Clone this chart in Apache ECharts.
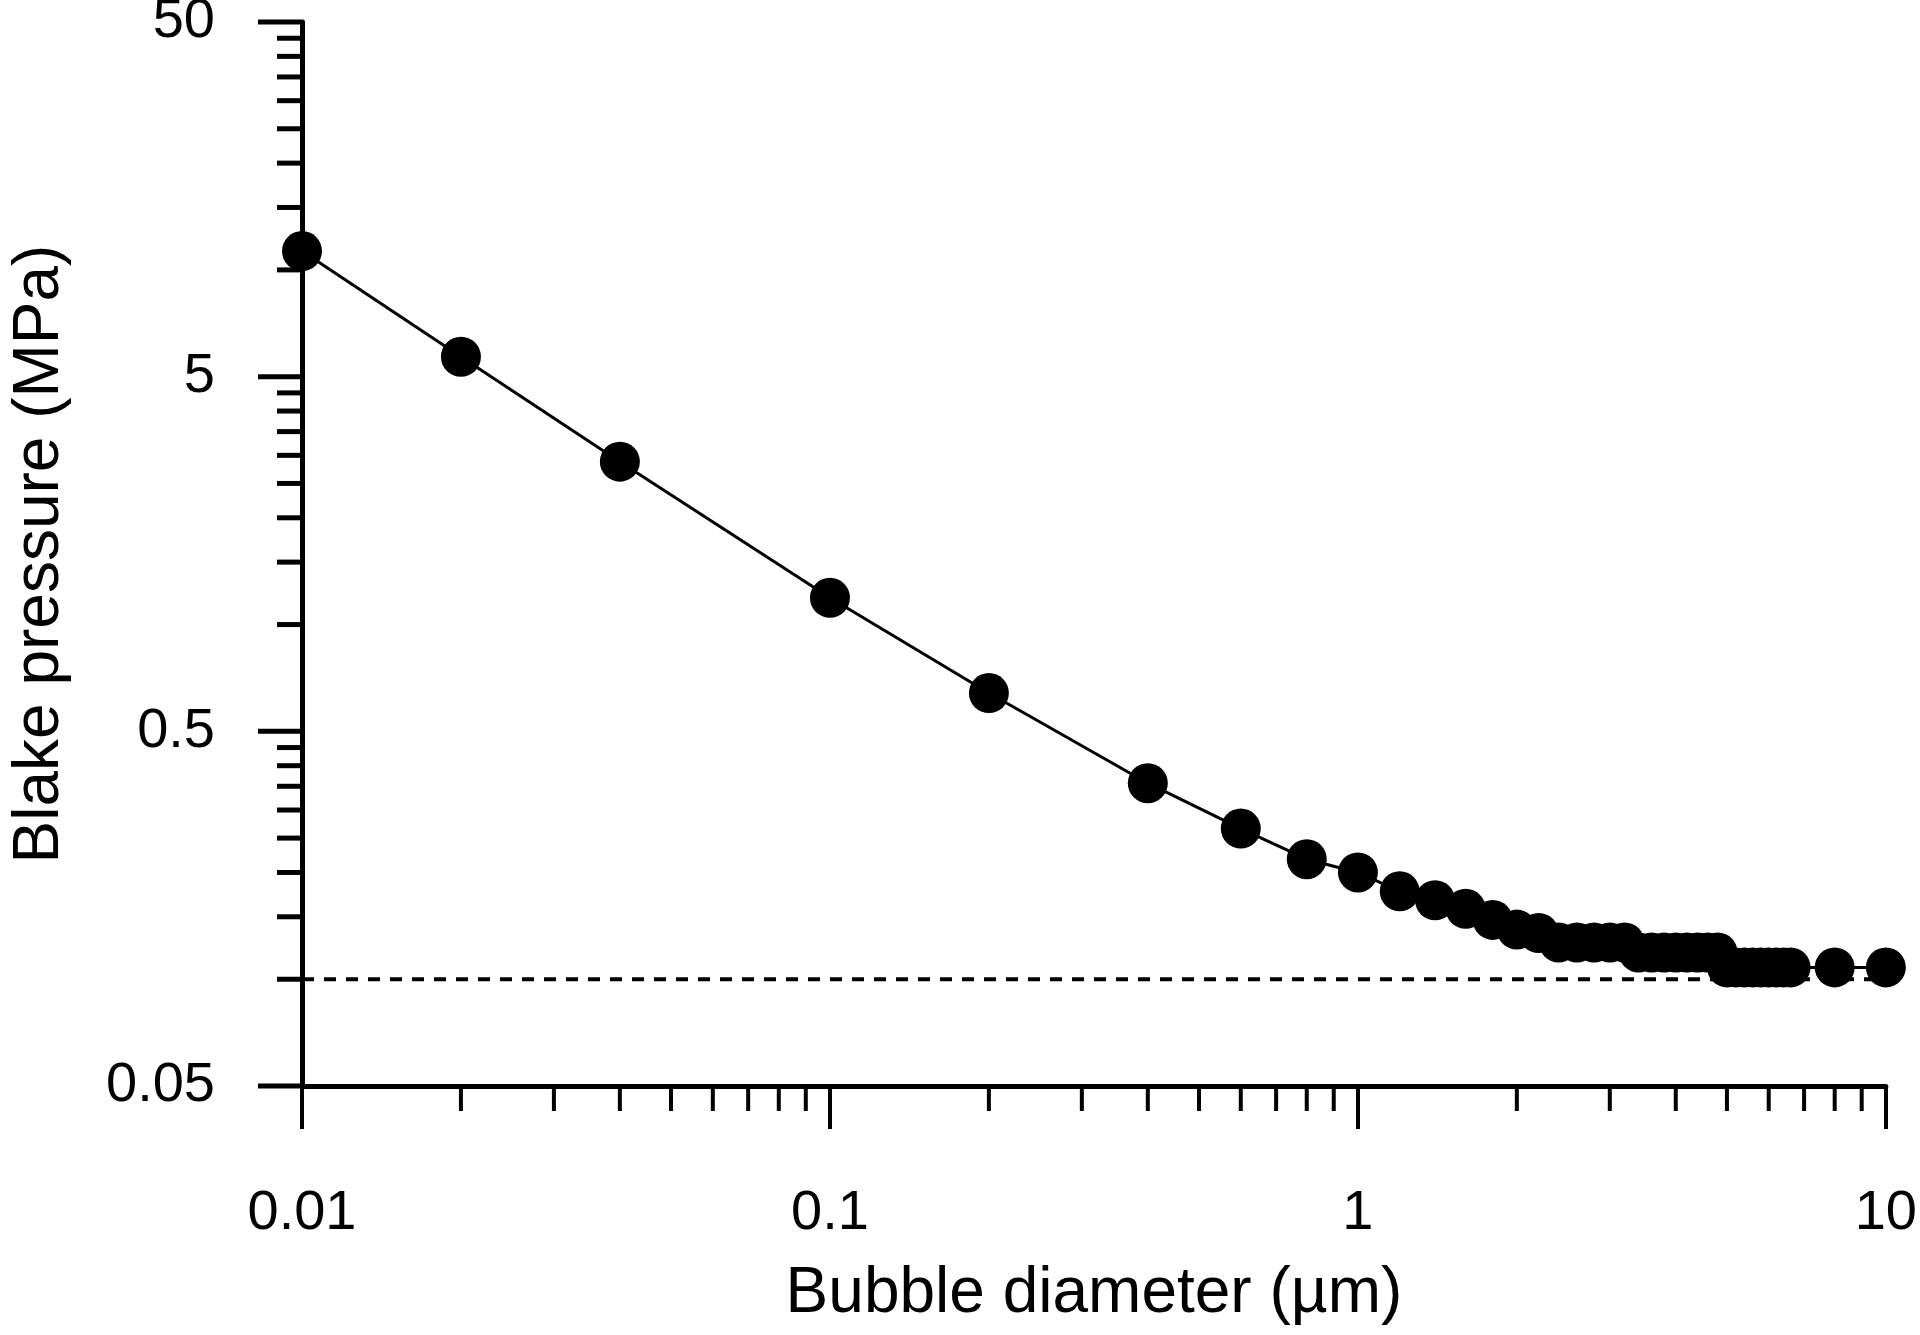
<!DOCTYPE html>
<html><head><meta charset="utf-8">
<script src="https://cdn.jsdelivr.net/npm/echarts@6/dist/echarts.min.js"></script>
<style>html,body{margin:0;background:#fff}#c{width:1920px;height:1335px}</style>
</head><body><div id="c"></div>
<script>
const diameters = [0.01,0.02,0.04,0.1,0.2,0.4,0.6,0.8,1.0,1.2,1.4,1.6,1.8,2.0,2.2,2.4,2.6,2.8,3.0,3.2,3.4,3.6,3.8,4.0,4.2,4.4,4.6,4.8,5.0,5.2,5.4,5.6,5.8,6.0,6.2,6.4,6.6,8,10];
const pressures = [11.3,5.69,2.88,1.19,0.641,0.357,0.266,0.218,0.200,0.177,0.167,0.158,0.147,0.138,0.135,0.127,0.127,0.127,0.127,0.127,0.119,0.119,0.119,0.119,0.119,0.119,0.119,0.119,0.108,0.108,0.108,0.108,0.108,0.108,0.108,0.108,0.108,0.108,0.108];
const ambientPressure = 0.1;
const yMajor = [0.05,0.5,5,50];
const yLabels = ['0.05','0.5','5','50'];
const yMinor = [];
[0.05,0.5,5].forEach(d=>{for(let k=2;k<=9;k++)yMinor.push(+(d*k).toPrecision(3));});
const xMinor = [];
[0.01,0.1,1].forEach(d=>{for(let k=2;k<=9;k++)xMinor.push(+(d*k).toPrecision(3));});
const font = 'Liberation Sans, Arial, sans-serif';
const chart = echarts.init(document.getElementById('c'));
chart.setOption({
  animation:false,
  grid:{left:296,right:22,top:22,bottom:249},
  xAxis:{type:'log',logBase:10,min:0.01,max:10,
    axisLine:{lineStyle:{color:'#000',width:5}},
    axisTick:{show:true,inside:false,length:43,lineStyle:{color:'#000',width:4}},
    minorTick:{show:false},splitLine:{show:false},
    axisLabel:{color:'#000',fontSize:56,fontFamily:font,margin:100,formatter:v=>String(v)},
    name:'Bubble diameter (µm)',nameLocation:'middle',nameGap:176,
    nameTextStyle:{color:'#000',fontSize:64,fontFamily:font}},
  yAxis:{type:'log',logBase:10,min:0.05,max:50,
    axisLine:{lineStyle:{color:'#000',width:5}},
    axisTick:{show:false},axisLabel:{show:false},splitLine:{show:false},
    name:'Blake pressure (MPa)',nameLocation:'middle',nameGap:230,
    nameTextStyle:{color:'#000',fontSize:64,fontFamily:font}},
  series:[
    {type:'line',data:[[0.01,ambientPressure],[10,ambientPressure]],symbol:'none',
     lineStyle:{color:'#000',width:4,type:[12,10]},z:1},
    {type:'line',data:diameters.map((d,i)=>[d,pressures[i]]),symbol:'circle',symbolSize:40,
     itemStyle:{color:'#000'},lineStyle:{color:'#000',width:3},clip:false,z:3},
    {type:'custom',clip:false,z:4,data:yMajor.map((v,i)=>[v,i]),
     renderItem:(p,api)=>{const v=api.value(0);const pt=api.coord([0.01,v]);
       return {type:'group',children:[
        {type:'line',shape:{x1:pt[0]-44,y1:pt[1],x2:pt[0],y2:pt[1]},style:{stroke:'#000',lineWidth:5}},
        {type:'text',style:{text:yLabels[api.value(1)],x:pt[0]-87,y:pt[1],align:'right',verticalAlign:'middle',fontSize:56,fontFamily:font,fill:'#000'}}]};}},
    {type:'custom',clip:false,z:4,data:yMinor.map(v=>[v]),
     renderItem:(p,api)=>{const pt=api.coord([0.01,api.value(0)]);
       return {type:'line',shape:{x1:pt[0]-25,y1:pt[1],x2:pt[0],y2:pt[1]},style:{stroke:'#000',lineWidth:5}};}},
    {type:'custom',clip:false,z:4,data:xMinor.map(v=>[v]),
     renderItem:(p,api)=>{const pt=api.coord([api.value(0),0.05]);
       return {type:'line',shape:{x1:pt[0],y1:pt[1],x2:pt[0],y2:pt[1]+25},style:{stroke:'#000',lineWidth:4}};}}
  ]
});
</script></body></html>
